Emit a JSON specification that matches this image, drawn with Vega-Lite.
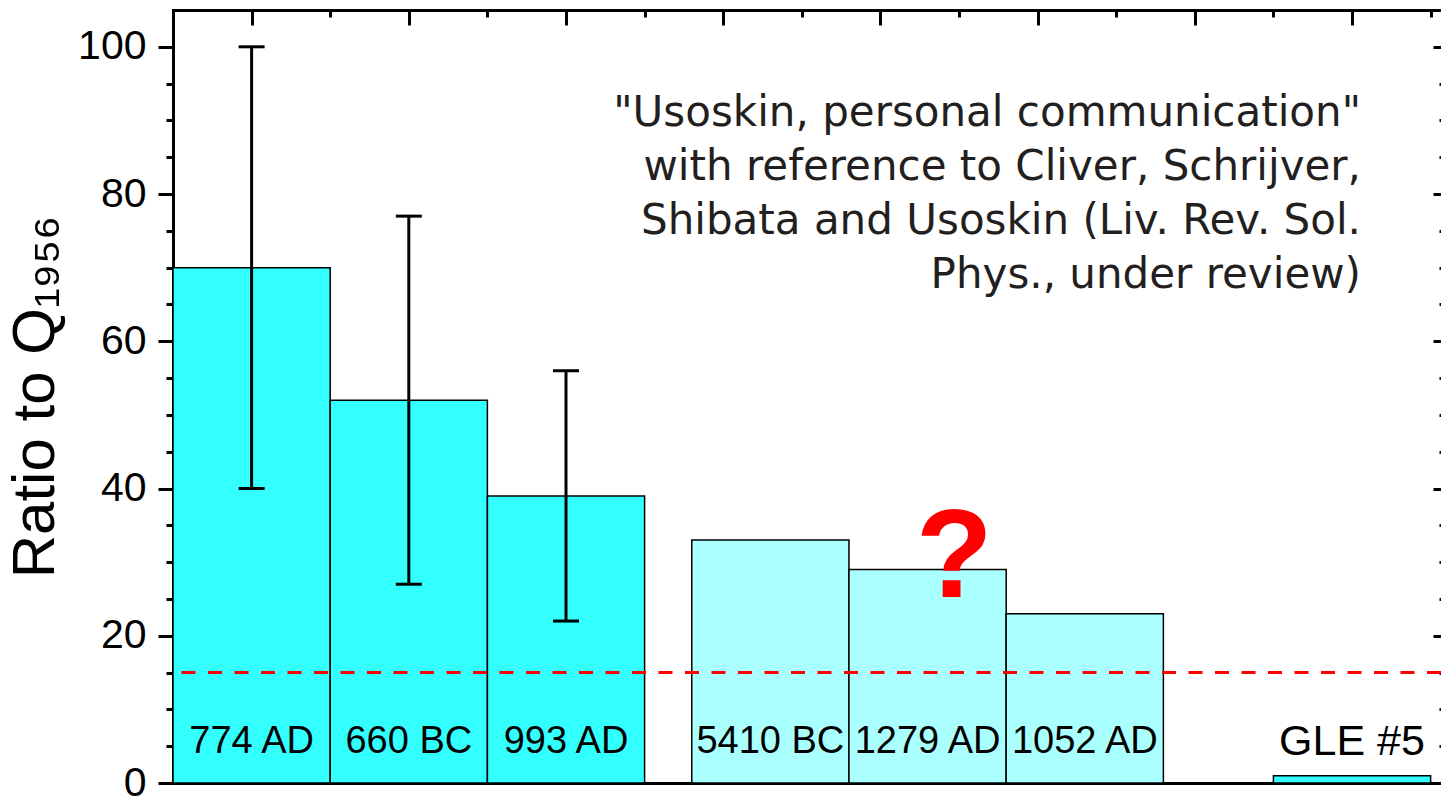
{
  "$schema": "https://vega.github.io/schema/vega-lite/v6.json",
  "width": 1268,
  "height": 773,
  "autosize": "none",
  "padding": {"left": 173, "top": 10, "right": 0, "bottom": 13},
  "background": "white",
  "config": {
    "view": {"stroke": null},
    "axis": {"grid": false, "zindex": 1, "domainColor": "black", "tickColor": "black", "domainWidth": 3, "tickWidth": 3, "domainCap": "square"}
  },
  "datasets": {
    "events": [
      {"event": "774 AD", "pos": 1, "x0": 0.5, "x1": 1.5, "ratio": 70, "lo": 40, "hi": 100, "group": "A"},
      {"event": "660 BC", "pos": 2, "x0": 1.5, "x1": 2.5, "ratio": 52, "lo": 27, "hi": 77, "group": "A"},
      {"event": "993 AD", "pos": 3, "x0": 2.5, "x1": 3.5, "ratio": 39, "lo": 22, "hi": 56, "group": "A"},
      {"event": "5410 BC", "pos": 4.3, "x0": 3.8, "x1": 4.8, "ratio": 33, "lo": null, "hi": null, "group": "B"},
      {"event": "1279 AD", "pos": 5.3, "x0": 4.8, "x1": 5.8, "ratio": 29, "lo": null, "hi": null, "group": "B"},
      {"event": "1052 AD", "pos": 6.3, "x0": 5.8, "x1": 6.8, "ratio": 23, "lo": null, "hi": null, "group": "B"},
      {"event": "GLE #5", "pos": 8, "x0": 7.5, "x1": 8.5, "ratio": 1, "lo": null, "hi": null, "group": "A"}
    ]
  },
  "resolve": {"axis": {"x": "independent", "y": "independent"}},
  "layer": [
    {
      "data": {"name": "events"},
      "mark": {"type": "rect", "stroke": "black", "strokeWidth": 1.5},
      "encoding": {
        "x": {"field": "x0", "type": "quantitative", "scale": {"domain": [0.5, 8.566], "nice": false, "zero": false},
              "axis": {"orient": "bottom", "ticks": false, "labels": false, "title": null}},
        "x2": {"field": "x1"},
        "y": {"field": "ratio", "type": "quantitative", "scale": {"domain": [0, 105], "nice": false},
              "axis": {"orient": "left", "values": [0,5,10,15,20,25,30,35,40,45,50,55,60,65,70,75,80,85,90,95,100],
                       "tickSize": {"condition": {"test": "datum.value % 20 === 0", "value": 15}, "value": 7},
                       "labelExpr": "datum.value % 20 === 0 ? datum.label : ''",
                       "labelFont": "Liberation Sans", "labelFontSize": 41, "labelColor": "black", "labelPadding": 12,
                       "title": "Ratio to Q₁₉₅₆", "titleFont": "Liberation Sans", "titleFontSize": 60, "titleFontWeight": "normal",
                       "titleColor": "black", "titlePadding": 11}},
        "y2": {"datum": 0},
        "color": {"field": "group", "type": "nominal", "scale": {"domain": ["A", "B"], "range": ["#33FFFF", "#AAFFFF"]}, "legend": null}
      }
    },
    {
      "data": {"values": [{}]},
      "mark": {"type": "rule", "color": "#FF0000", "strokeWidth": 3, "strokeDash": [14, 12.5]},
      "encoding": {"y": {"datum": 15, "type": "quantitative", "axis": null}}
    },
    {
      "data": {"name": "events"},
      "transform": [{"filter": "isValid(datum.hi)"}],
      "mark": {"type": "rule", "color": "black", "strokeWidth": 3},
      "encoding": {
        "x": {"field": "pos", "type": "quantitative",
              "axis": {"orient": "top", "values": [0.5,1,1.5,2,2.5,3,3.5,4,4.5,5,5.5,6,6.5,7,7.5,8,8.5],
                       "tickSize": {"condition": {"test": "datum.value % 1 === 0", "value": -15}, "value": -7},
                       "labels": false, "title": null}},
        "y": {"field": "lo", "type": "quantitative",
              "axis": {"orient": "right", "domain": false, "values": [0,5,10,15,20,25,30,35,40,45,50,55,60,65,70,75,80,85,90,95,100],
                       "tickSize": {"condition": {"test": "datum.value % 20 === 0", "value": -8}, "value": -2},
                       "labels": false, "title": null}},
        "y2": {"field": "hi"}
      }
    },
    {
      "data": {"name": "events"},
      "transform": [{"filter": "isValid(datum.hi)"}],
      "mark": {"type": "tick", "orient": "horizontal", "color": "black", "size": 26, "thickness": 3, "opacity": 1},
      "encoding": {
        "x": {"field": "pos", "type": "quantitative", "axis": null},
        "y": {"field": "hi", "type": "quantitative", "axis": null}
      }
    },
    {
      "data": {"name": "events"},
      "transform": [{"filter": "isValid(datum.lo)"}],
      "mark": {"type": "tick", "orient": "horizontal", "color": "black", "size": 26, "thickness": 3, "opacity": 1},
      "encoding": {
        "x": {"field": "pos", "type": "quantitative", "axis": null},
        "y": {"field": "lo", "type": "quantitative", "axis": null}
      }
    },
    {
      "data": {"name": "events"},
      "mark": {"type": "text", "font": "Liberation Sans", "color": "black", "align": "center", "baseline": "middle"},
      "encoding": {
        "x": {"field": "pos", "type": "quantitative", "axis": null},
        "y": {"datum": 5.6, "type": "quantitative", "axis": null},
        "text": {"field": "event"},
        "size": {"condition": {"test": "datum.event === 'GLE #5'", "value": 43}, "value": 38}
      }
    },
    {
      "data": {"values": [{}]},
      "mark": {"type": "text", "font": "Liberation Sans", "fontWeight": "bold", "fontSize": 126, "color": "#FF0000", "align": "center", "baseline": "alphabetic"},
      "encoding": {
        "x": {"datum": 5.47, "type": "quantitative", "axis": null},
        "y": {"datum": 25.3, "type": "quantitative", "axis": null},
        "text": {"value": "?"}
      }
    },
    {
      "data": {"values": [{}]},
      "mark": {"type": "text", "font": "DejaVu Sans", "fontSize": 42, "color": "#231F20", "align": "right", "baseline": "alphabetic", "lineHeight": 54},
      "encoding": {
        "x": {"datum": 8.057, "type": "quantitative", "axis": null},
        "y": {"datum": 89.3, "type": "quantitative", "axis": null},
        "text": {"value": ["\"Usoskin, personal communication\"", "with reference to Cliver, Schrijver,", "Shibata and Usoskin (Liv. Rev. Sol.", "Phys., under review)"]}
      }
    }
  ]
}
